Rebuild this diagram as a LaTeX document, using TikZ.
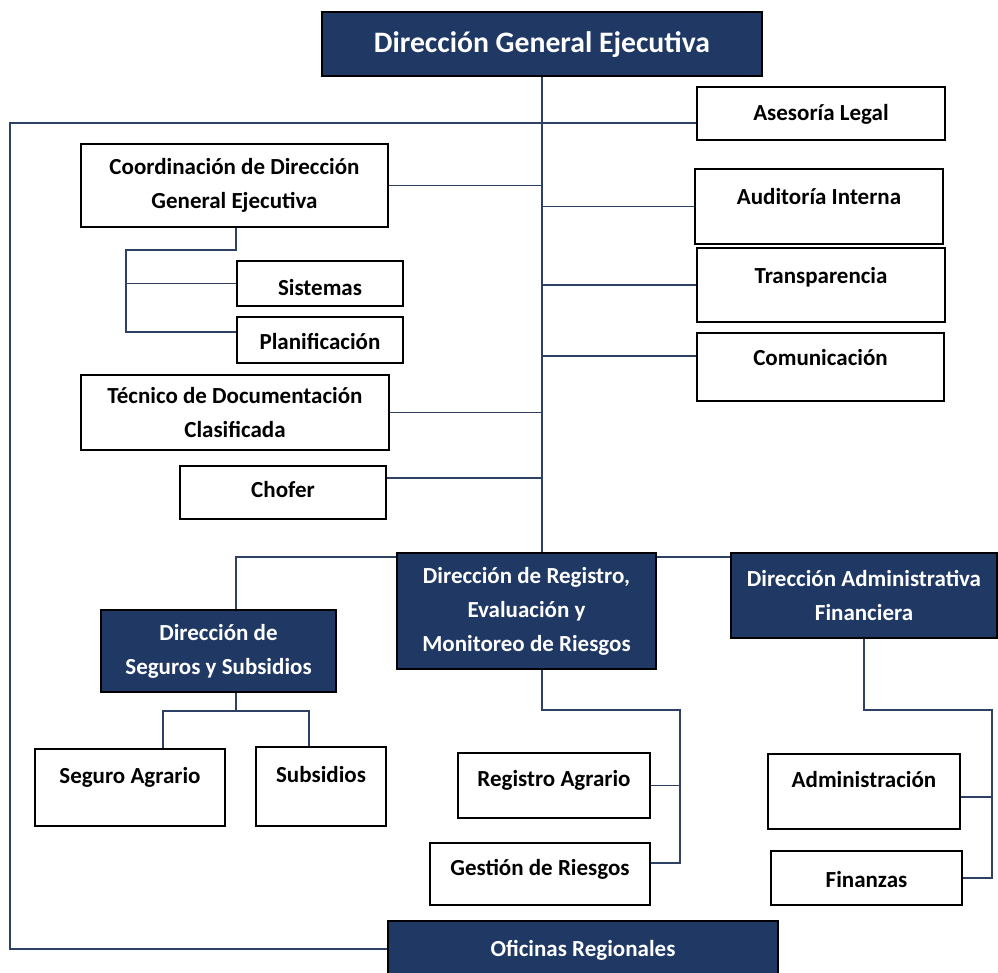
\documentclass[tikz,border=0pt]{standalone}
\usepackage{fontspec}
\setmainfont{Carlito}
\usetikzlibrary{backgrounds}
\definecolor{navy}{HTML}{1F3864}
\definecolor{linkc}{HTML}{2E4063}

\begin{document}
\begin{tikzpicture}[x=1pt,y=-1pt,
	unit/.style={draw=black,line width=1.8pt,fill=white,align=center,inner sep=0pt,font=\fontsize{23}{34}\selectfont\bfseries},
	head/.style={unit,fill=navy,text=white},
	lift/.style={text height=16pt,text depth=#1},
	lift/.default=1pt,
	link/.style={draw=linkc,line width=1.5pt}]
	\useasboundingbox (0,0) rectangle (998,973);

	\node (dge) at (542,44)[head,minimum width=440pt,minimum height=64pt,text height=22pt,text depth=5pt,font=\fontsize{29.7}{36}\selectfont\bfseries]{Dirección General Ejecutiva};

	\node (asl) at (821,113.5)[unit,lift,minimum width=248pt,minimum height=53pt]{Asesoría Legal};
	\node (aud) at (819,206.5)[unit,lift=19pt,minimum width=248pt,minimum height=75pt]{Auditoría Interna};
	\node (trn) at (821,285)[unit,lift=19pt,minimum width=248pt,minimum height=74pt]{Transparencia};
	\node (com) at (820.5,367)[unit,lift=19pt,minimum width=247pt,minimum height=68pt]{Comunicación};

	\node (cde) at (234.5,185.5)[unit,minimum width=307pt,minimum height=83pt]{Coordinación de Dirección\\General Ejecutiva};
	\node (sis) at (320,283.5)[unit,text height=29pt,text depth=5pt,minimum width=166pt,minimum height=45pt]{Sistemas};
	\node (pla) at (320,340)[unit,text height=24pt,text depth=5pt,minimum width=166pt,minimum height=46pt]{Planificación};
	\node (tdc) at (235,412.5)[unit,minimum width=308pt,minimum height=75pt]{Técnico de Documentación\\Clasificada};
	\node (cho) at (283,492.5)[unit,lift=6pt,minimum width=206pt,minimum height=53pt]{Chofer};

	\node (dss) at (218.5,651)[head,minimum width=235pt,minimum height=82pt]{Dirección de\\Seguros y Subsidios};
	\node (drm) at (526.5,611)[head,minimum width=259pt,minimum height=116pt]{Dirección de Registro,\\Evaluación y\\Monitoreo de Riesgos};
	\node (dad) at (864,595.5)[head,minimum width=266pt,minimum height=85pt]{Dirección Administrativa\\Financiera};

	\node (sga) at (130,787.5)[unit,lift=25pt,minimum width=190pt,minimum height=77pt]{Seguro Agrario};
	\node (sub) at (321,786.5)[unit,lift=25pt,minimum width=130pt,minimum height=79pt]{Subsidios};
	\node (rag) at (554,785.5)[unit,lift=15pt,minimum width=192pt,minimum height=65pt]{Registro Agrario};
	\node (ges) at (540,874)[unit,lift=13pt,minimum width=220pt,minimum height=62pt]{Gestión de Riesgos};
	\node (adm) at (864,791.5)[unit,lift=25pt,minimum width=192pt,minimum height=75pt]{Administración};
	\node (fin) at (866.5,878)[unit,text height=24pt,text depth=5pt,minimum width=191pt,minimum height=54pt]{Finanzas};

	\node (ofr) at (583,949)[head,lift,minimum width=390pt,minimum height=56pt]{Oficinas Regionales};

	\coordinate (lp) at (10,123);
	\coordinate (sc) at (126,250);
	\coordinate (bus) at (542,557);
	\coordinate (sj) at (236,711);
	\coordinate (rj) at (680,710);
	\coordinate (aj) at (992,710);

	\begin{scope}[on background layer]
	\fill[white] (0,0) rectangle (998,973);
	% trunk and staff units
	\draw[link] (dge.south) -- (dge.south |- drm.north);
	\draw[link] ([yshift=-9.5pt]asl.west) -- (lp) |- (ofr.west);
	\draw[link] (dge.south) |- (aud.west);
	\draw[link] (dge.south) |- (trn.west);
	\draw[link] (dge.south) |- ([yshift=11pt]com.west);
	\draw[link] (dge.south) |- (cde.east);
	\draw[link] (dge.south) |- (tdc.east);
	\draw[link] (dge.south) |- ([yshift=14.5pt]cho.east);
	\draw[link] ([xshift=1.5pt]cde.south) |- (sc) |- (sis.west);
	\draw[link] (sc) |- ([yshift=8pt]pla.west);

	% directions
	\draw[link] ([xshift=17.5pt]dss.north) |- (bus) -- (bus -| dad.west);
	\draw[link] ([xshift=17.5pt]dss.south) -- (sj) -| ([xshift=33pt]sga.north);
	\draw[link] (sj) -| ([xshift=-12pt]sub.north);
	\draw[link] (drm.south -| dge.south) |- (rj) |- ([yshift=11pt]ges.east);
	\draw[link] (rag.east) -| (rj);
	\draw[link] (dad.south) |- (aj) |- (fin.east);
	\draw[link] ([yshift=-5.5pt]adm.east) -| (aj);
	\end{scope}
\end{tikzpicture}
\end{document}
